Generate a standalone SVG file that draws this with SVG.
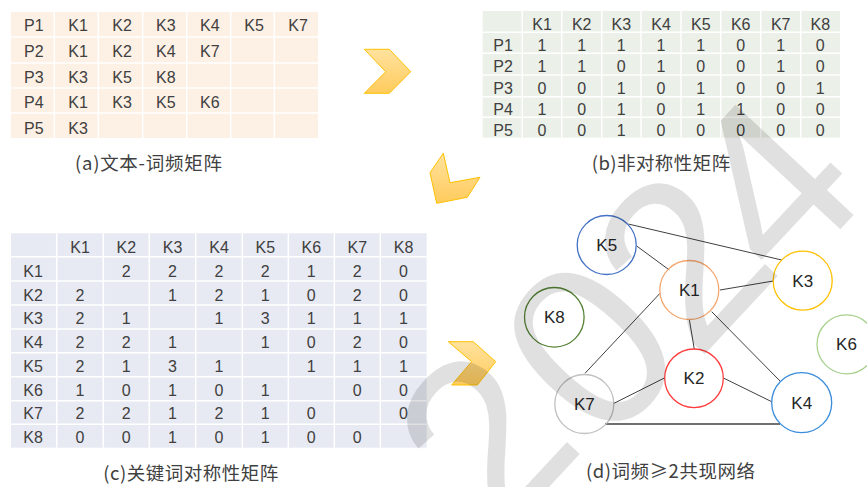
<svg xmlns="http://www.w3.org/2000/svg" width="867" height="487" viewBox="0 0 867 487">
<defs>
<style>
.t{font-family:"Liberation Sans","Noto Sans",sans-serif;font-size:16px;fill:#404040}
.c{text-anchor:middle}
.cap{font-family:"Noto Sans CJK SC","Noto Sans",sans-serif;font-size:18.5px;fill:#404040}
.grid{stroke:#fff;stroke-width:1.5}
.edge{stroke:#404040;stroke-width:1;fill:none}
.node{fill:none;stroke-width:1.3}
.nl{font-family:"Liberation Sans","Noto Sans",sans-serif;font-size:17px;fill:#262626;text-anchor:middle}
.arrow{fill:url(#ag);stroke:#FFC000;stroke-width:1;stroke-linejoin:miter}
.wm{font-family:"Liberation Sans",sans-serif;font-weight:400;font-size:235px;fill:#000;fill-opacity:0.12;text-anchor:middle}
</style>
<linearGradient id="ag" x1="0" y1="0" x2="0" y2="1">
<stop offset="0" stop-color="#FFE29E"/>
<stop offset="1" stop-color="#FFCB5C"/>
</linearGradient>
</defs>
<rect width="867" height="487" fill="#fff"/>

<!-- (a) text-frequency table -->
<g id="table-a">
<rect x="11" y="12" width="307" height="126" fill="#FDF0E5"/>
<g class="grid">
<line x1="54.3" y1="12" x2="54.3" y2="138"/><line x1="98.3" y1="12" x2="98.3" y2="138"/><line x1="142.7" y1="12" x2="142.7" y2="138"/><line x1="186.7" y1="12" x2="186.7" y2="138"/><line x1="230.7" y1="12" x2="230.7" y2="138"/><line x1="274.3" y1="12" x2="274.3" y2="138"/>
<line x1="11" y1="37" x2="318" y2="37"/><line x1="11" y1="63" x2="318" y2="63"/><line x1="11" y1="88" x2="318" y2="88"/><line x1="11" y1="113" x2="318" y2="113"/>
</g>
<g class="t">
<text x="24" y="31">P1</text><text x="68.3" y="31">K1</text><text x="112.3" y="31">K2</text><text x="156" y="31">K3</text><text x="200" y="31">K4</text><text x="244.3" y="31">K5</text><text x="288.3" y="31">K7</text>
<text x="24" y="56.7">P2</text><text x="68.3" y="56.7">K1</text><text x="112.3" y="56.7">K2</text><text x="156" y="56.7">K4</text><text x="200" y="56.7">K7</text>
<text x="24" y="82.5">P3</text><text x="68.3" y="82.5">K3</text><text x="112.3" y="82.5">K5</text><text x="156" y="82.5">K8</text>
<text x="24" y="108.2">P4</text><text x="68.3" y="108.2">K1</text><text x="112.3" y="108.2">K3</text><text x="156" y="108.2">K5</text><text x="200" y="108.2">K6</text>
<text x="24" y="133.5">P5</text><text x="68.3" y="133.5">K3</text>
</g>
<text class="cap" x="75" y="170" textLength="147" lengthAdjust="spacing">(a)文本-词频矩阵</text>
</g>

<!-- (b) asymmetric matrix -->
<g id="table-b">
<rect x="482.7" y="11" width="357.3" height="126.7" fill="#EBF0E8"/>
<g class="grid">
<line x1="522.3" y1="11" x2="522.3" y2="137.7"/><line x1="561.7" y1="11" x2="561.7" y2="137.7"/><line x1="601.7" y1="11" x2="601.7" y2="137.7"/><line x1="641" y1="11" x2="641" y2="137.7"/><line x1="681" y1="11" x2="681" y2="137.7"/><line x1="720.7" y1="11" x2="720.7" y2="137.7"/><line x1="760.7" y1="11" x2="760.7" y2="137.7"/><line x1="800.7" y1="11" x2="800.7" y2="137.7"/>
<line x1="482.7" y1="32.3" x2="840" y2="32.3"/><line x1="482.7" y1="53.3" x2="840" y2="53.3"/><line x1="482.7" y1="75" x2="840" y2="75"/><line x1="482.7" y1="96.7" x2="840" y2="96.7"/><line x1="482.7" y1="117.3" x2="840" y2="117.3"/>
</g>
<g class="t c">
<text x="542" y="29.5">K1</text><text x="581.7" y="29.5">K2</text><text x="621.3" y="29.5">K3</text><text x="661" y="29.5">K4</text><text x="700.8" y="29.5">K5</text><text x="740.7" y="29.5">K6</text><text x="780.7" y="29.5">K7</text><text x="820.3" y="29.5">K8</text>
<text x="542" y="51">1</text><text x="581.7" y="51">1</text><text x="621.3" y="51">1</text><text x="661" y="51">1</text><text x="700.8" y="51">1</text><text x="740.7" y="51">0</text><text x="780.7" y="51">1</text><text x="820.3" y="51">0</text>
<text x="542" y="72">1</text><text x="581.7" y="72">1</text><text x="621.3" y="72">0</text><text x="661" y="72">1</text><text x="700.8" y="72">0</text><text x="740.7" y="72">0</text><text x="780.7" y="72">1</text><text x="820.3" y="72">0</text>
<text x="542" y="93.5">0</text><text x="581.7" y="93.5">0</text><text x="621.3" y="93.5">1</text><text x="661" y="93.5">0</text><text x="700.8" y="93.5">1</text><text x="740.7" y="93.5">0</text><text x="780.7" y="93.5">0</text><text x="820.3" y="93.5">1</text>
<text x="542" y="114.5">1</text><text x="581.7" y="114.5">0</text><text x="621.3" y="114.5">1</text><text x="661" y="114.5">0</text><text x="700.8" y="114.5">1</text><text x="740.7" y="114.5">1</text><text x="780.7" y="114.5">0</text><text x="820.3" y="114.5">0</text>
<text x="542" y="135.7">0</text><text x="581.7" y="135.7">0</text><text x="621.3" y="135.7">1</text><text x="661" y="135.7">0</text><text x="700.8" y="135.7">0</text><text x="740.7" y="135.7">0</text><text x="780.7" y="135.7">0</text><text x="820.3" y="135.7">0</text>
</g>
<g class="t">
<text x="493.3" y="51">P1</text><text x="493.3" y="72">P2</text><text x="493.3" y="93.5">P3</text><text x="493.3" y="114.5">P4</text><text x="493.3" y="135.7">P5</text>
</g>
<text class="cap" x="591.7" y="170" textLength="138.5" lengthAdjust="spacing">(b)非对称性矩阵</text>
</g>

<!-- (c) keyword symmetric matrix -->
<g id="table-c">
<rect x="11" y="233.3" width="415.7" height="214.4" fill="#E8EAF3"/>
<g class="grid">
<line x1="56.7" y1="233.3" x2="56.7" y2="447.7"/><line x1="103.3" y1="233.3" x2="103.3" y2="447.7"/><line x1="149.3" y1="233.3" x2="149.3" y2="447.7"/><line x1="195.7" y1="233.3" x2="195.7" y2="447.7"/><line x1="242.3" y1="233.3" x2="242.3" y2="447.7"/><line x1="288.3" y1="233.3" x2="288.3" y2="447.7"/><line x1="334.3" y1="233.3" x2="334.3" y2="447.7"/><line x1="380.3" y1="233.3" x2="380.3" y2="447.7"/>
<line x1="11" y1="256.7" x2="426.7" y2="256.7"/><line x1="11" y1="281" x2="426.7" y2="281"/><line x1="11" y1="305" x2="426.7" y2="305"/><line x1="11" y1="329" x2="426.7" y2="329"/><line x1="11" y1="352.7" x2="426.7" y2="352.7"/><line x1="11" y1="376.7" x2="426.7" y2="376.7"/><line x1="11" y1="400.7" x2="426.7" y2="400.7"/><line x1="11" y1="424.3" x2="426.7" y2="424.3"/>
</g>
<g class="t c">
<text x="80" y="253.3">K1</text><text x="126.3" y="253.3">K2</text><text x="172.5" y="253.3">K3</text><text x="219" y="253.3">K4</text><text x="265.3" y="253.3">K5</text><text x="311.3" y="253.3">K6</text><text x="357.3" y="253.3">K7</text><text x="403.5" y="253.3">K8</text>
<text x="126.3" y="276.7">2</text><text x="172.5" y="276.7">2</text><text x="219" y="276.7">2</text><text x="265.3" y="276.7">2</text><text x="311.3" y="276.7">1</text><text x="357.3" y="276.7">2</text><text x="403.5" y="276.7">0</text>
<text x="80" y="300.7">2</text><text x="172.5" y="300.7">1</text><text x="219" y="300.7">2</text><text x="265.3" y="300.7">1</text><text x="311.3" y="300.7">0</text><text x="357.3" y="300.7">2</text><text x="403.5" y="300.7">0</text>
<text x="80" y="324.3">2</text><text x="126.3" y="324.3">1</text><text x="219" y="324.3">1</text><text x="265.3" y="324.3">3</text><text x="311.3" y="324.3">1</text><text x="357.3" y="324.3">1</text><text x="403.5" y="324.3">1</text>
<text x="80" y="348.3">2</text><text x="126.3" y="348.3">2</text><text x="172.5" y="348.3">1</text><text x="265.3" y="348.3">1</text><text x="311.3" y="348.3">0</text><text x="357.3" y="348.3">2</text><text x="403.5" y="348.3">0</text>
<text x="80" y="371.7">2</text><text x="126.3" y="371.7">1</text><text x="172.5" y="371.7">3</text><text x="219" y="371.7">1</text><text x="311.3" y="371.7">1</text><text x="357.3" y="371.7">1</text><text x="403.5" y="371.7">1</text>
<text x="80" y="395.7">1</text><text x="126.3" y="395.7">0</text><text x="172.5" y="395.7">1</text><text x="219" y="395.7">0</text><text x="265.3" y="395.7">1</text><text x="357.3" y="395.7">0</text><text x="403.5" y="395.7">0</text>
<text x="80" y="419.3">2</text><text x="126.3" y="419.3">2</text><text x="172.5" y="419.3">1</text><text x="219" y="419.3">2</text><text x="265.3" y="419.3">1</text><text x="311.3" y="419.3">0</text><text x="403.5" y="419.3">0</text>
<text x="80" y="443.3">0</text><text x="126.3" y="443.3">0</text><text x="172.5" y="443.3">1</text><text x="219" y="443.3">0</text><text x="265.3" y="443.3">1</text><text x="311.3" y="443.3">0</text><text x="357.3" y="443.3">0</text>
</g>
<g class="t">
<text x="23.3" y="276.7">K1</text><text x="23.3" y="300.7">K2</text><text x="23.3" y="324.3">K3</text><text x="23.3" y="348.3">K4</text><text x="23.3" y="371.7">K5</text><text x="23.3" y="395.7">K6</text><text x="23.3" y="419.3">K7</text><text x="23.3" y="443.3">K8</text>
</g>
<text class="cap" x="103.3" y="480" textLength="175" lengthAdjust="spacing">(c)关键词对称性矩阵</text>
</g>

<!-- arrows -->
<g id="arrow-1"><polygon class="arrow" points="364.3,49.3 389.3,49.3 410.7,71.7 389.3,93.3 364.3,93.3 385.7,71.7"/></g>
<g id="arrow-2"><polygon class="arrow" points="443.3,153.3 450,182.7 480,177.3 467.3,197.3 436.7,203.3 430,172.7"/></g>
<g id="arrow-3"><polygon class="arrow" points="448.3,341.7 473.3,341.7 495.7,361.7 477.3,385 451.7,385 471.7,361.7"/></g>

<!-- (d) co-occurrence network -->
<g id="connectors">
<line class="edge" x1="628.3" y1="224" x2="781.7" y2="260"/>
<line class="edge" x1="636.7" y1="246" x2="669.3" y2="270"/>
<line class="edge" x1="720" y1="290" x2="773.3" y2="281"/>
<line class="edge" x1="660" y1="293.3" x2="585" y2="373.3"/>
<line class="edge" x1="689.3" y1="319.3" x2="694.3" y2="349.3"/>
<line class="edge" x1="711.7" y1="311.7" x2="780.7" y2="381.7"/>
<line class="edge" x1="614" y1="403.3" x2="665" y2="377.7"/>
<line class="edge" x1="724" y1="378.3" x2="771.7" y2="401.7"/>
<line class="edge" x1="605" y1="424" x2="780" y2="424" style="stroke-width:1.5"/>
</g>
<g id="node-K5"><circle class="node" cx="606.7" cy="245" r="29.5" stroke="#4472C4"/><text class="nl" x="606.7" y="251">K5</text></g>
<g id="node-K1"><circle class="node" cx="689.3" cy="290" r="29.5" stroke="#F4A56E"/><text class="nl" x="689.3" y="296">K1</text></g>
<g id="node-K3"><circle class="node" cx="802.7" cy="280.7" r="29.5" stroke="#FFC000"/><text class="nl" x="802.7" y="286.7">K3</text></g>
<g id="node-K8"><circle class="node" cx="554.3" cy="317.3" r="29.8" stroke="#548235"/><text class="nl" x="554.3" y="323.3">K8</text></g>
<g id="node-K6"><circle class="node" cx="846.5" cy="344.3" r="29.5" stroke="#A9D18E"/><text class="nl" x="846.5" y="350.3">K6</text></g>
<g id="node-K2"><circle class="node" cx="694" cy="378.3" r="29.3" stroke="#FF3B3B"/><text class="nl" x="694" y="384.3">K2</text></g>
<g id="node-K7"><circle class="node" cx="584.3" cy="404" r="29.5" stroke="#BFBFBF"/><text class="nl" x="584.3" y="410">K7</text></g>
<g id="node-K4"><circle class="node" cx="801.7" cy="402.7" r="30" stroke="#3A8DDB"/><text class="nl" x="801.7" y="408.7">K4</text></g>
<text class="cap" x="586" y="478.3" textLength="169" lengthAdjust="spacing">(d)词频≥2共现网络</text>

<!-- watermark -->
<g id="watermark">
<text class="wm" transform="translate(482,436) rotate(-47)" x="0" y="84">2</text>
<text class="wm" transform="translate(588,345) rotate(-47)" x="0" y="84">0</text>
<text class="wm" transform="translate(680,258) rotate(-47)" x="0" y="84">2</text>
<text class="wm" transform="translate(768,184) rotate(-47)" x="0" y="84">4</text>
</g>
</svg>
